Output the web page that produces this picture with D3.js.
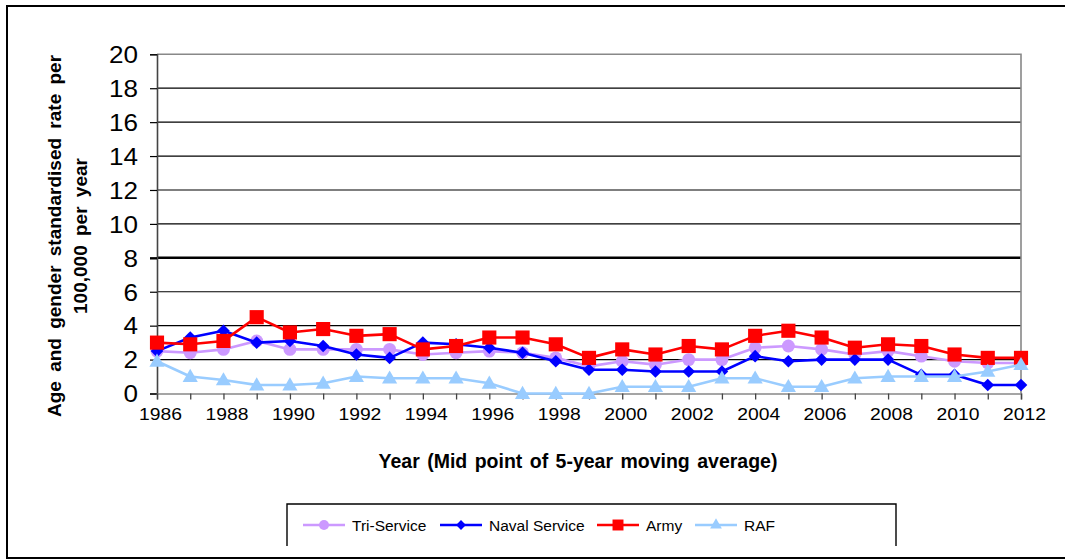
<!doctype html>
<html lang="en">
<head>
<meta charset="utf-8">
<title>Rate per 100,000 by service</title>
<style>
  * { margin: 0; padding: 0; box-sizing: border-box; }
  body { background: #fff; }
  svg { display: block; font-family: "Liberation Sans", Arial, sans-serif; }
</style>
</head>
<body>
<div id="container"></div>
<script src="https://cdn.jsdelivr.net/npm/d3@7"></script>
<script>
  const years = d3.range(1986, 2013);
  const yTicks = [0, 2, 4, 6, 8, 10, 12, 14, 16, 18, 20];

  const triService = [2.5, 2.4, 2.6, 3.1, 2.6, 2.6, 2.6, 2.6, 2.3, 2.4, 2.5, 2.4, 2.1, 1.6,
    1.9, 1.7, 2.0, 2.0, 2.7, 2.8, 2.6, 2.3, 2.5, 2.2, 1.9, 1.8, 1.8];
  const navalService = [2.5, 3.3, 3.7, 3.0, 3.1, 2.8, 2.3, 2.1, 3.0, 2.9, 2.7, 2.4, 1.9, 1.4,
    1.4, 1.3, 1.3, 1.3, 2.2, 1.9, 2.0, 2.0, 2.0, 1.1, 1.1, 0.5, 0.5];
  const army = [3.0, 2.9, 3.1, 4.5, 3.6, 3.8, 3.4, 3.5, 2.6, 2.8, 3.3, 3.3, 2.9, 2.1,
    2.6, 2.3, 2.8, 2.6, 3.4, 3.7, 3.3, 2.7, 2.9, 2.8, 2.3, 2.1, 2.1];
  const raf = [1.9, 1.0, 0.8, 0.5, 0.5, 0.6, 1.0, 0.9, 0.9, 0.9, 0.6, 0, 0, 0,
    0.4, 0.4, 0.4, 0.9, 0.9, 0.4, 0.4, 0.9, 1.0, 1.0, 1.0, 1.3, 1.7];

  // rot: extra rotation so the square becomes an even diamond, like Excel's marker
  const series = [
    { name: 'Tri-Service', values: triService, color: '#cc99ff', shape: d3.symbolCircle, size: 130, rot: 0, dy: 0 },
    { name: 'Naval Service', values: navalService, color: '#0000ff', shape: d3.symbolSquare, size: 80, rot: 45, dy: 0 },
    { name: 'Army', values: army, color: '#ff0000', shape: d3.symbolSquare, size: 200, rot: 0, dy: 0 },
    { name: 'RAF', values: raf, color: '#99ccff', shape: d3.symbolTriangle, size: 100, rot: 0, dy: 1 }
  ];

  const W = 1065, H = 560;
  const svg = d3.select('#container').append('svg')
    .attr('width', W)
    .attr('height', H);

  // outer frame (right edge runs off the picture)
  svg.append('rect')
    .attr('x', 7).attr('y', 6)
    .attr('width', 1080).attr('height', 552)
    .attr('fill', '#fff')
    .attr('stroke', '#000')
    .attr('stroke-width', 2);

  const x = d3.scaleLinear().domain([1986, 2012]).range([157, 1021]);
  const y = d3.scaleLinear().domain([0, 20]).range([393.5, 54.3]);

  // gridlines
  svg.append('g').selectAll('line')
    .data(yTicks.filter(d => d > 0 && d < 20))
    .join('line')
    .attr('x1', x(1986)).attr('x2', x(2012))
    .attr('y1', d => y(d)).attr('y2', d => y(d))
    .attr('stroke', '#000')
    .attr('stroke-width', d => d === 8 ? 2.4 : 1.2);

  // plot border top/right
  svg.append('path')
    .attr('d', `M${x(1986)},${y(20)}H${x(2012)}V${y(0)}`)
    .attr('fill', 'none')
    .attr('stroke', '#888')
    .attr('stroke-width', 1.6);

  // y axis
  const yAxis = svg.append('g')
    .attr('transform', `translate(${x(1986)},0)`)
    .call(d3.axisLeft(y).tickValues(yTicks).tickSize(7).tickPadding(12).tickFormat(d3.format('d')));
  yAxis.select('.domain').attr('stroke', '#444').attr('stroke-width', 1.6);
  yAxis.selectAll('.tick line').attr('stroke', '#000').attr('stroke-width', d => d === 8 ? 2.4 : 1.2);
  yAxis.selectAll('.tick text')
    .attr('font-size', 23)
    .attr('font-family', '"Liberation Sans", Arial, sans-serif')
    .attr('fill', '#000')
    .attr('dy', '0.36em')
    .attr('textLength', d => String(d).length * 14.5)
    .attr('lengthAdjust', 'spacingAndGlyphs');

  // x axis
  const xAxis = svg.append('g')
    .attr('transform', `translate(0,${y(0)})`)
    .call(d3.axisBottom(x).tickValues(years).tickSize(6).tickPadding(9)
      .tickFormat(d => d % 2 === 0 ? String(d) : ''));
  xAxis.select('.domain').attr('stroke', '#888').attr('stroke-width', 1.6);
  xAxis.selectAll('.tick line').attr('stroke', '#444').attr('stroke-width', 1.3);
  xAxis.selectAll('.tick text')
    .attr('font-size', 16.3)
    .attr('font-family', '"Liberation Sans", Arial, sans-serif')
    .attr('fill', '#000')
    .attr('dx', 3)
    .filter(d => d % 2 === 0)
    .attr('textLength', 43)
    .attr('lengthAdjust', 'spacingAndGlyphs');

  // series
  const line = d3.line()
    .x((d, i) => x(years[i]))
    .y(d => y(d));

  series.forEach(s => {
    const g = svg.append('g');
    g.append('path')
      .attr('d', line(s.values))
      .attr('fill', 'none')
      .attr('stroke', s.color)
      .attr('stroke-width', 2.6)
      .attr('stroke-linejoin', 'round');
    g.selectAll('path.mark')
      .data(s.values)
      .join('path')
      .attr('class', 'mark')
      .attr('d', d3.symbol(s.shape, s.size))
      .attr('transform', (d, i) => `translate(${x(years[i])},${y(d) + s.dy}) rotate(${s.rot})`)
      .attr('fill', s.color);
  });

  // axis titles
  svg.append('text')
    .attr('x', 578).attr('y', 468)
    .attr('text-anchor', 'middle')
    .attr('font-size', 19.5)
    .attr('font-weight', 'bold')
    .attr('word-spacing', 2)
    .text('Year (Mid point of 5-year moving average)');

  const yTitle = svg.append('text')
    .attr('transform', 'translate(61,236) rotate(-90)')
    .attr('text-anchor', 'middle')
    .attr('font-size', 19)
    .attr('font-weight', 'bold')
    .attr('word-spacing', 4);
  yTitle.append('tspan').attr('x', 0).attr('y', 0).text('Age and gender standardised rate per');
  yTitle.append('tspan').attr('x', 0).attr('y', 26).text('100,000 per year');

  // legend
  const legend = svg.append('g');
  legend.append('path')
    .attr('d', 'M287,546V504H896V546')
    .attr('fill', 'none')
    .attr('stroke', '#000')
    .attr('stroke-width', 1.4);

  const legendX = [303, 440, 597, 695];
  const ly = 525;
  series.forEach((s, i) => {
    const lx = legendX[i];
    legend.append('line')
      .attr('x1', lx).attr('x2', lx + 42)
      .attr('y1', ly).attr('y2', ly)
      .attr('stroke', s.color)
      .attr('stroke-width', 2.6);
    legend.append('path')
      .attr('d', d3.symbol(s.shape, s.size * 0.6))
      .attr('transform', `translate(${lx + 21},${ly}) rotate(${s.rot})`)
      .attr('fill', s.color);
    legend.append('text')
      .attr('x', lx + 49).attr('y', ly + 5.5)
      .attr('font-size', 15.5)
      .attr('fill', '#000')
      .text(s.name);
  });
</script>
</body>
</html>
